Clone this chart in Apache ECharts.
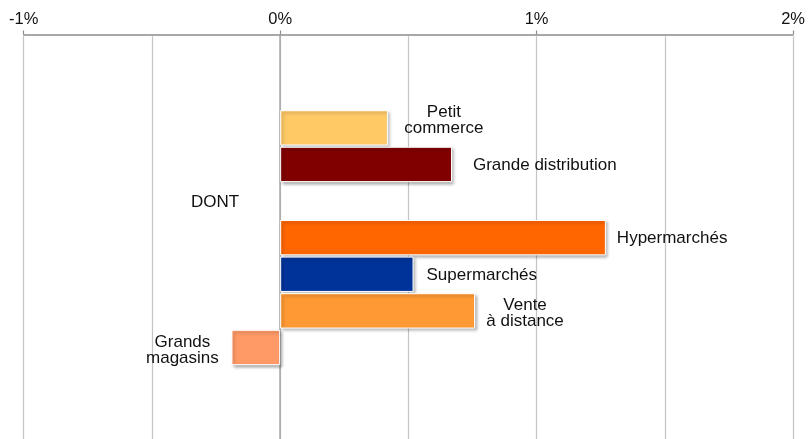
<!DOCTYPE html>
<html>
<head>
<meta charset="utf-8">
<script src="https://cdn.jsdelivr.net/npm/echarts@6/dist/echarts.min.js"></script>
<style>
html,body{margin:0;padding:0;background:#fff;}
#chart{width:808px;height:439px;}
</style>
</head>
<body>
<div id="chart"></div>
<script>
// Rows from top to bottom (blank rows are empty slots)
const categories = ['b1', 'b2', 'Petit commerce', 'Grande distribution', 'DONT', 'Hypermarchés', 'Supermarchés', 'Vente à distance', 'Grands magasins', 'b3', 'b4'];
const labels = ['', '', 'Petit\ncommerce', 'Grande distribution', 'DONT', 'Hypermarchés', 'Supermarchés', 'Vente\nà distance', 'Grands\nmagasins', '', ''];
const values = [null, null, 0.42, 0.67, 0, 1.27, 0.52, 0.76, -0.19, null, null];
const colors = [null, null, '#FFC966', '#800000', null, '#FF6600', '#003399', '#FF9933', '#FF9966', null, null];
const tickValues = [-1, 0, 1, 2];

const FONT = 'Liberation Sans, Arial, sans-serif';

// label placement per row (style only)
const labelStyle = {
  2: {position: 'right', align: 'center', distance: 56, offset: [0, -8]},
  3: {position: 'right', align: 'left', distance: 21, offset: [0, 1]},
  4: {position: 'left', align: 'right', distance: 41, offset: [0, 1]},
  5: {position: 'right', align: 'left', distance: 11, offset: [0, 1]},
  6: {position: 'right', align: 'left', distance: 13, offset: [0, 1]},
  7: {position: 'right', align: 'center', distance: 50, offset: [0, 2]},
  8: {position: 'left', align: 'center', distance: 49, offset: [0, 3]}
};

const data = values.map((v, i) => {
  if (v === null) return {value: '-'};
  const ls = labelStyle[i];
  const isEmpty = colors[i] === null;
  return {
    value: v,
    itemStyle: isEmpty ? {color: 'rgba(0,0,0,0)', borderWidth: 0, shadowBlur: 0, shadowColor: 'rgba(0,0,0,0)'} : {color: colors[i]},
    label: {
      show: true,
      formatter: labels[i],
      position: ls.position,
      align: ls.align,
      verticalAlign: 'middle',
      distance: ls.distance,
      offset: ls.offset,
      color: '#111',
      fontFamily: FONT,
      fontSize: 17,
      lineHeight: 16
    }
  };
});

const chart = echarts.init(document.getElementById('chart'), null, {renderer: 'canvas'});
chart.setOption({
  animation: false,
  backgroundColor: '#fff',
  grid: {left: 23.7, right: 14, top: 36.3, height: 405},
  xAxis: {
    type: 'value',
    position: 'top',
    offset: 1.8,
    min: tickValues[0],
    max: tickValues[tickValues.length - 1],
    interval: 1,
    axisLine: {show: true, lineStyle: {color: '#8c8c8c', width: 1.5}},
    axisTick: {show: true, length: 4, lineStyle: {color: '#8c8c8c', width: 1.2}},
    axisLabel: {
      margin: 6.3,
      color: '#111',
      fontFamily: FONT,
      fontSize: 16.5,
      formatter: v => v + '%'
    },
    splitLine: {show: true, lineStyle: {color: '#c4c4c4', width: 1.2}},
    minorTick: {show: false, splitNumber: 2},
    minorSplitLine: {show: true, lineStyle: {color: '#c4c4c4', width: 1.2}}
  },
  yAxis: {
    type: 'category',
    data: categories,
    inverse: true,
    axisLine: {show: true, onZero: true, lineStyle: {color: '#a8a8a8', width: 1.5}},
    axisTick: {show: false},
    axisLabel: {show: false},
    splitLine: {show: false}
  },
  series: [{
    type: 'bar',
    data: data,
    barCategoryGap: '3.5%',
    itemStyle: {
      borderColor: '#ffffff',
      borderWidth: 1,
      shadowBlur: 3,
      shadowOffsetX: 2,
      shadowOffsetY: 2,
      shadowColor: 'rgba(0,0,0,0.3)'
    }
  }]
});
</script>
</body>
</html>
